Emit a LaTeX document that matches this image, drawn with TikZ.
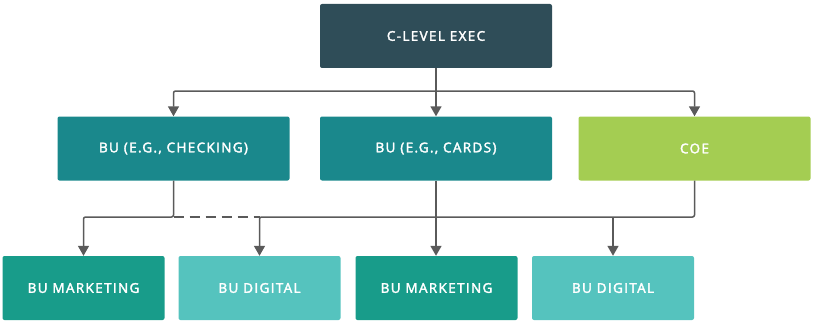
\documentclass[tikz,border=0pt]{standalone}
\usepackage{fontspec}
\setmainfont{Open Sans}[FakeBold=2.5, LetterSpace=10]
\usetikzlibrary{arrows.meta}

\definecolor{execcol}{HTML}{2F4D58}
\definecolor{bucol}{HTML}{1A888C}
\definecolor{coecol}{HTML}{A4CD52}
\definecolor{mktcol}{HTML}{189C8A}
\definecolor{digcol}{HTML}{55C3BE}
\definecolor{linecol}{HTML}{5A5A5A}

\begin{document}
\begin{tikzpicture}[
  x=1pt, y=1pt,
  box/.style={rectangle, rounded corners=2pt, text=white, inner sep=0pt,
    font=\fontsize{13.5}{15}\selectfont},
  upper/.style={box, minimum width=232pt, minimum height=64pt},
  lower/.style={box, minimum width=162pt, minimum height=64pt},
  link/.style={line width=1.5pt, linecol, rounded corners=2pt},
  >={Triangle[width=11pt, length=10pt]}
]
  \useasboundingbox (0,0) rectangle (813,322);

  % Heights of the two bus lines
  \def\topbus{231}
  \def\lowbus{105}

  % Top level
  \node[upper, fill=execcol] (exec) at (436,286) {C-LEVEL EXEC};

  % Middle row
  \node[upper, fill=bucol] (chk) at (173.5,173.5) {BU (E.G., CHECKING)};
  \node[upper, fill=bucol] (cards) at (436,173.5) {BU (E.G., CARDS)};
  \node[upper, fill=coecol] (coe) at (694.5,173.5) {COE};

  % Bottom row
  \node[lower, fill=mktcol] (mkt1) at (83.5,34) {BU MARKETING};
  \node[lower, fill=digcol] (dig1) at (259.5,34) {BU DIGITAL};
  \node[lower, fill=mktcol] (mkt2) at (436.5,34) {BU MARKETING};
  \node[lower, fill=digcol] (dig2) at (613,34) {BU DIGITAL};

  \coordinate (tb) at (0,\topbus);
  \coordinate (lb) at (0,\lowbus);

  % Exec fans out to the middle row
  \draw[link] (exec.south) -- (exec.south |- tb);
  \draw[link, ->] (exec.south |- tb) -| (chk.north);
  \draw[link, ->] (exec.south |- tb) -| (coe.north);
  \draw[link, ->] (exec.south |- tb) -- (cards.north);

  % Checking to its marketing, dashed tie to digital
  \draw[link, ->] (chk.south) |- (lb -| mkt1.north) -- (mkt1.north);
  \draw[link, rounded corners=0pt, dash pattern=on 10pt off 6pt]
    (chk.south |- lb) -- (lb -| dig1.north);

  % Cards straight down
  \draw[link, ->] (cards.south) -- (cards.south |- mkt2.north);

  % COE to both digital boxes
  \draw[link, ->] (coe.south) |- (lb -| dig1.north) -- (dig1.north);
  \draw[link, ->] (lb -| dig2.north) -- (dig2.north);

\end{tikzpicture}
\end{document}
